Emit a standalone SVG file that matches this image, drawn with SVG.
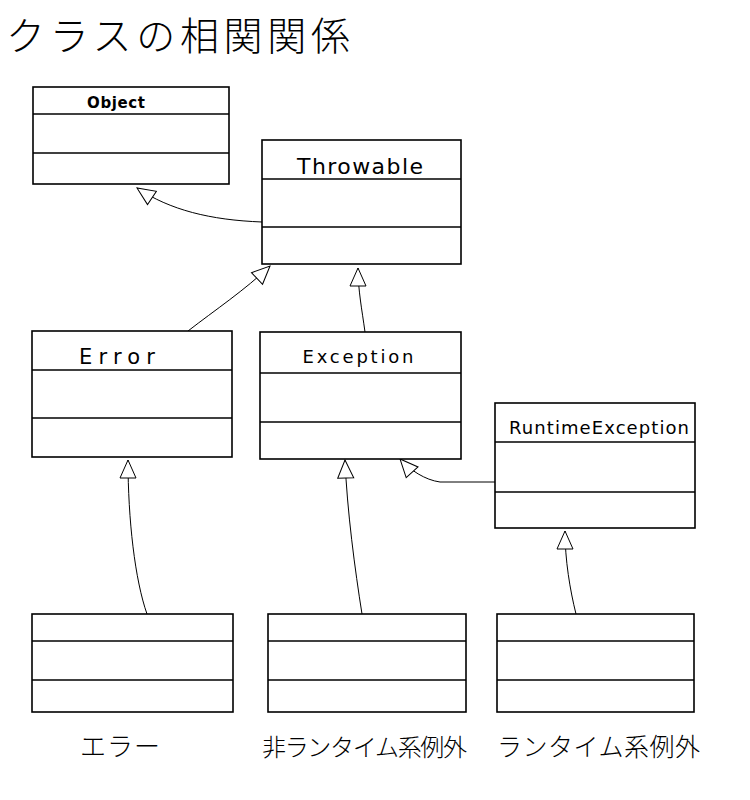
<svg xmlns="http://www.w3.org/2000/svg" width="750" height="800" viewBox="0 0 750 800">
<defs>
<style>
.box{fill:#fff;stroke:#000;stroke-width:1.6}
.div{stroke:#000;stroke-width:1.6;fill:none}
.cn{fill:none;stroke:#000;stroke-width:1}
.lbl{font-family:"DejaVu Sans","Liberation Sans",sans-serif;fill:#000;text-anchor:middle}
.jp{font-family:"Noto Sans CJK JP",sans-serif;font-weight:300;fill:#000}
</style>
<marker id="tri" viewBox="0 0 20 20" refX="19" refY="10" markerWidth="20" markerHeight="20" markerUnits="userSpaceOnUse" orient="auto">
<path d="M1,2 L19,10 L1,18 Z" fill="#fff" stroke="#000" stroke-width="1"/>
</marker>
</defs>
<rect width="750" height="800" fill="#fff"/>
<text class="jp" x="6" y="50" font-size="39" textLength="344">クラスの相関関係</text>

<g id="connectors">
<path class="cn" d="M262,222 C210,220 170,210 137,188" marker-end="url(#tri)"/>
<path class="cn" d="M188,331 C215,310 245,290 270,266" marker-end="url(#tri)"/>
<path class="cn" d="M365,332 C362,310 358,290 358,268" marker-end="url(#tri)"/>
<path class="cn" d="M147,614 C135,580 128,520 128,460" marker-end="url(#tri)"/>
<path class="cn" d="M362,614 C355,570 347,510 345,460" marker-end="url(#tri)"/>
<path class="cn" d="M495,482 L440,482 C425,480 410,470 400,459" marker-end="url(#tri)"/>
<path class="cn" d="M576,614 C570,590 565,560 565,531" marker-end="url(#tri)"/>
</g>

<g id="Object">
<rect class="box" x="33" y="87" width="196" height="97"/>
<line class="div" x1="33" y1="114" x2="229" y2="114"/>
<line class="div" x1="33" y1="153" x2="229" y2="153"/>
<text class="lbl" x="116" y="108" font-size="15" font-weight="bold" textLength="58">Object</text>
</g>
<g id="Throwable">
<rect class="box" x="262" y="140" width="199" height="124"/>
<line class="div" x1="262" y1="179" x2="461" y2="179"/>
<line class="div" x1="262" y1="227" x2="461" y2="227"/>
<text class="lbl" x="360" y="174" font-size="22" textLength="126">Throwable</text>
</g>
<g id="Error">
<rect class="box" x="32" y="331" width="200" height="126"/>
<line class="div" x1="32" y1="370" x2="232" y2="370"/>
<line class="div" x1="32" y1="418" x2="232" y2="418"/>
<text class="lbl" x="117" y="364" font-size="21" textLength="76">Error</text>
</g>
<g id="Exception">
<rect class="box" x="260" y="332" width="201" height="127"/>
<line class="div" x1="260" y1="373" x2="461" y2="373"/>
<line class="div" x1="260" y1="422" x2="461" y2="422"/>
<text class="lbl" x="358" y="363" font-size="18" textLength="111">Exception</text>
</g>
<g id="RuntimeException">
<rect class="box" x="495" y="403" width="200" height="125"/>
<line class="div" x1="495" y1="442" x2="695" y2="442"/>
<line class="div" x1="495" y1="492" x2="695" y2="492"/>
<text class="lbl" x="599" y="434" font-size="18" textLength="180">RuntimeException</text>
</g>
<g id="ErrorSub">
<rect class="box" x="32" y="614" width="201" height="98"/>
<line class="div" x1="32" y1="641" x2="233" y2="641"/>
<line class="div" x1="32" y1="680" x2="233" y2="680"/>
<text class="jp" x="80" y="756" font-size="26" textLength="80">エラー</text>
</g>
<g id="CheckedSub">
<rect class="box" x="268" y="614" width="198" height="98"/>
<line class="div" x1="268" y1="641" x2="466" y2="641"/>
<line class="div" x1="268" y1="680" x2="466" y2="680"/>
<text class="jp" x="262" y="756" font-size="24" textLength="205">非ランタイム系例外</text>
</g>
<g id="RuntimeSub">
<rect class="box" x="497" y="614" width="197" height="98"/>
<line class="div" x1="497" y1="641" x2="694" y2="641"/>
<line class="div" x1="497" y1="680" x2="694" y2="680"/>
<text class="jp" x="497" y="756" font-size="25" textLength="203">ランタイム系例外</text>
</g>
</svg>
